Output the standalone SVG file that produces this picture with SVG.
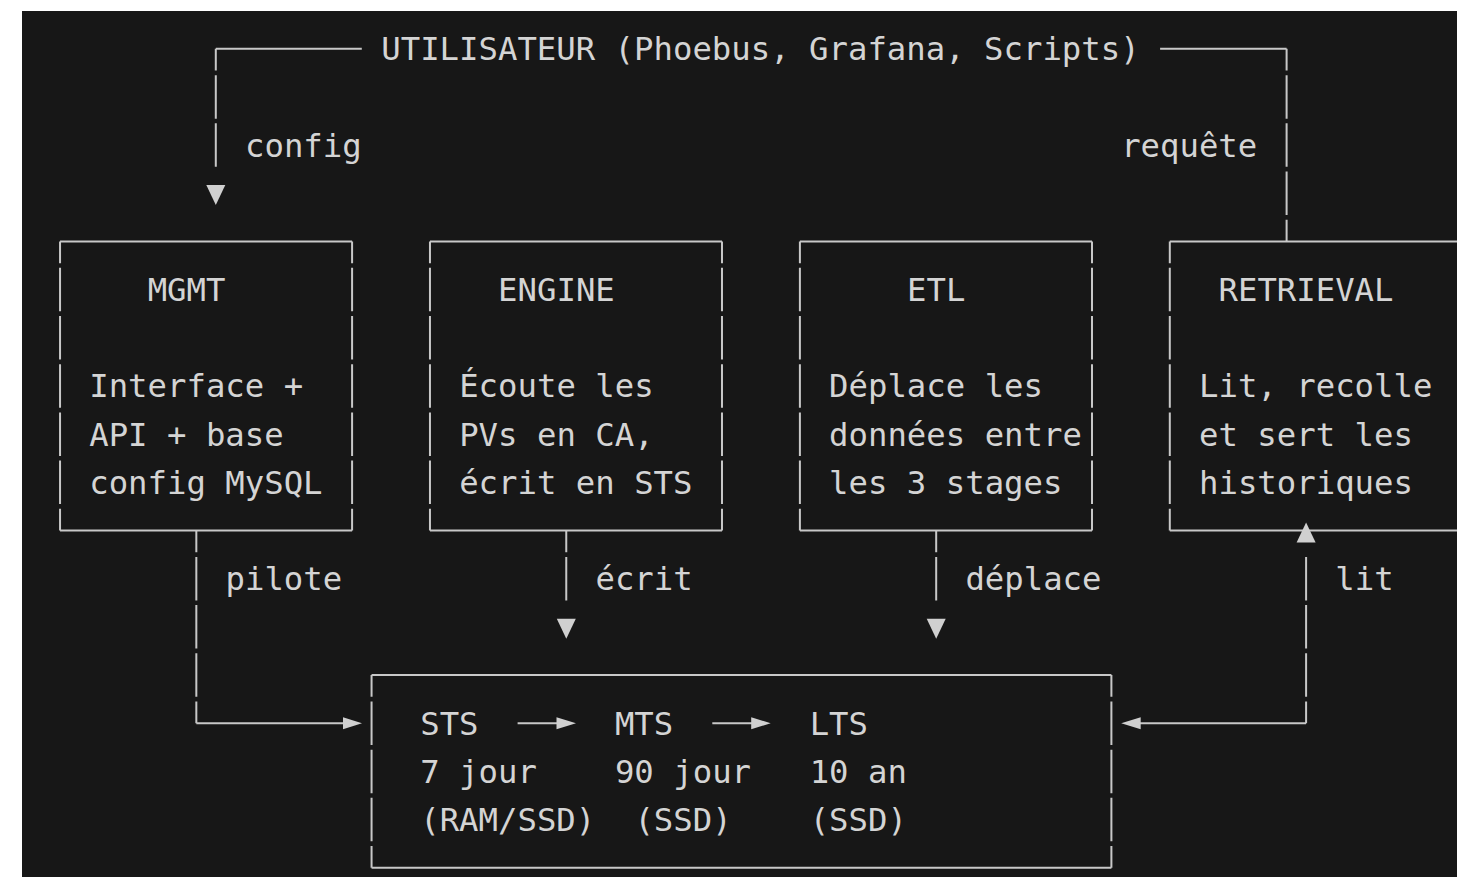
<svg xmlns="http://www.w3.org/2000/svg" width="1457" height="877" viewBox="0 0 1457 877">
<defs>
<style>
.t{font-family:"DejaVu Sans Mono","Liberation Mono",monospace;font-size:32.3px;fill:#d4d4d4;white-space:pre}
.h{stroke:#c8c8c8;stroke-width:2;fill:none}
.v{stroke:#c8c8c8;stroke-width:2;fill:none;stroke-dasharray:43.5 4.68;stroke-dashoffset:21.75}
.v0{stroke:#c8c8c8;stroke-width:2;fill:none;stroke-dasharray:43.5 4.68;stroke-dashoffset:0}
.a{fill:#d0d0d0;stroke:none}
</style>
</defs>
<rect x="0" y="0" width="1457" height="877" fill="#ffffff"/>
<rect x="22" y="11" width="1435" height="866" fill="#171717"/>

<g id="user">
<text class="t" x="381.29" y="60.2">UTILISATEUR (Phoebus, Grafana, Scripts)</text>
</g>

<g id="mgmt">
<path class="h" d="M60.04 241.42H352.09M60.04 530.5H352.09"/>
<path class="v" d="M60.04 241.42V530.5M352.09 241.42V530.5"/>
<text class="t" x="147.65" y="301.1">MGMT</text>
<text class="t" x="89.24" y="397.46">Interface +</text>
<text class="t" x="89.24" y="445.64">API + base</text>
<text class="t" x="89.24" y="493.82">config MySQL</text>
</g>

<g id="engine">
<path class="h" d="M429.97 241.42H721.99M429.97 530.5H721.99"/>
<path class="v" d="M429.97 241.42V530.5M721.99 241.42V530.5"/>
<text class="t" x="498.11" y="301.1">ENGINE</text>
<text class="t" x="459.17" y="397.46">Écoute les</text>
<text class="t" x="459.17" y="445.64">PVs en CA,</text>
<text class="t" x="459.17" y="493.82">écrit en STS</text>
</g>

<g id="etl">
<path class="h" d="M799.9 241.42H1092M799.9 530.5H1092"/>
<path class="v" d="M799.9 241.42V530.5M1092 241.42V530.5"/>
<text class="t" x="907" y="301.1">ETL</text>
<text class="t" x="829.1" y="397.46">Déplace les</text>
<text class="t" x="829.1" y="445.64">données entre</text>
<text class="t" x="829.1" y="493.82">les 3 stages</text>
</g>

<g id="retrieval">
<path class="h" d="M1169.8 241.42H1457M1169.8 530.5H1457"/>
<path class="v" d="M1169.8 241.42V530.5"/>
<text class="t" x="1218.5" y="301.1">RETRIEVAL</text>
<text class="t" x="1199.03" y="397.46">Lit, recolle</text>
<text class="t" x="1199.03" y="445.64">et sert les</text>
<text class="t" x="1199.03" y="493.82">historiques</text>
</g>

<g id="storage">
<path class="h" d="M371.56 675.04H1111.4M371.56 867.76H1111.4"/>
<path class="v" d="M371.56 675.04V867.76M1111.4 675.04V867.76"/>
<text class="t" x="420.23" y="734.72">STS</text>
<text class="t" x="614.93" y="734.72">MTS</text>
<text class="t" x="809.63" y="734.72">LTS</text>
<text class="t" x="420.23" y="782.9">7 jour</text>
<text class="t" x="614.93" y="782.9">90 jour</text>
<text class="t" x="809.63" y="782.9">10 an</text>
<text class="t" x="420.23" y="831.08">(RAM/SSD)</text>
<text class="t" x="634.4" y="831.08">(SSD)</text>
<text class="t" x="809.63" y="831.08">(SSD)</text>
<path class="h" d="M517.6 723.22H558M712.3 723.22H753"/>
<polygon class="a" points="556.5,717.2 576,723.22 556.5,729.2"/>
<polygon class="a" points="751.2,717.2 770.7,723.22 751.2,729.2"/>
</g>

<g id="connectors">
<!-- user to MGMT (config) -->
<path class="h" d="M215.8 48.7H361.8"/>
<path class="v" d="M215.8 48.7V166.9"/>
<polygon class="a" points="206.3,185 225.3,185 215.8,205"/>
<text class="t" x="245" y="156.56">config</text>
<!-- user to RETRIEVAL (requête) -->
<path class="h" d="M1160.1 48.7H1286.6"/>
<path class="v" d="M1286.6 48.7V241.42"/>
<text class="t" x="1121.15" y="156.56">requête</text>
<!-- MGMT pilote storage -->
<path class="v" d="M196.33 530.5V723.22"/>
<path class="h" d="M196.33 723.22H345"/>
<polygon class="a" points="343,717.2 362,723.22 343,729.2"/>
<text class="t" x="225.53" y="590.18">pilote</text>
<!-- ENGINE écrit -->
<path class="v" d="M566.26 530.5V600.43"/>
<polygon class="a" points="556.8,618.7 575.8,618.7 566.3,638.7"/>
<text class="t" x="595.46" y="590.18">écrit</text>
<!-- ETL déplace -->
<path class="v" d="M936.19 530.5V600.43"/>
<polygon class="a" points="926.7,618.7 945.7,618.7 936.2,638.7"/>
<text class="t" x="965.39" y="590.18">déplace</text>
<!-- storage lit RETRIEVAL -->
<path class="v0" d="M1306.1 556.93V723.22"/>
<path class="h" d="M1139 723.22H1306.1"/>
<polygon class="a" points="1140.7,717.2 1121.2,723.22 1140.7,729.2"/>
<polygon class="a" points="1306.1,522.5 1296.6,542.5 1315.6,542.5"/>
<text class="t" x="1335.32" y="590.18">lit</text>
</g>
</svg>
